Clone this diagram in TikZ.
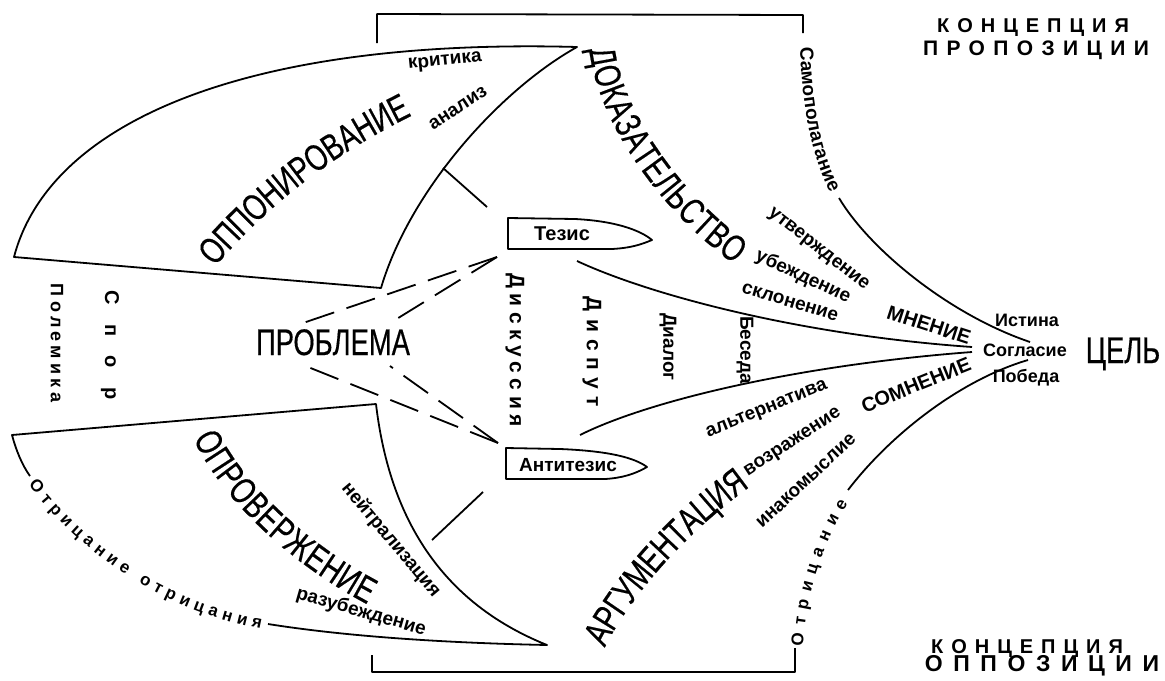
\documentclass[tikz,border=0pt]{standalone}
\usepackage{fontspec}
\setmainfont{Liberation Sans}
\newfontfamily\condfont[FakeStretch=0.74,FakeBold=0.4]{Liberation Sans}
\usetikzlibrary{decorations.text}
\newcommand\bigtype{\condfont\fontsize{18.5}{21}\selectfont}
\newcommand\smalltype{\bfseries\fontsize{9.5}{11}\selectfont}
\tikzset{
  edge/.style={line width=0.9pt, line join=round},
  gap/.style={line width=0.9pt, dash pattern=on 15pt off 6.5pt},
  lbl/.style={inner sep=0pt, font=\smalltype},
  tiny/.style={inner sep=0pt, font=\bfseries\fontsize{9}{11}\selectfont},
  biglbl/.style={inner sep=0pt, font=\bigtype},
  spaced/.style={inner sep=0pt, font=\bfseries\fontsize{10}{12}\selectfont\addfontfeature{LetterSpace=#1}},
}
\begin{document}
\begin{tikzpicture}[x=0.5pt,y=-0.5pt]
\useasboundingbox (0,0) rectangle (1165,680);

\draw[edge] (377,43) -- (377,14) -- (803,15) -- (803,33);
\draw[edge] (372,655) -- (372,672) -- (795,672) -- (795,648);

\draw[edge] (14,257) .. controls (50,120) and (250,38) .. (577,47) .. controls (500,90) and (410,190) .. (381,288) -- cycle;
\draw[edge] (30,476) .. controls (22,465) and (16,450) .. (12,435) -- (376,404) .. controls (392,540) and (460,610) .. (547,645) .. controls (450,643) and (350,637) .. (268,624);
\draw[edge] (443,168) -- (487,207);
\draw[edge] (483,492) -- (432,540);

\draw[edge] (508,218) -- (575,219) .. controls (615,221) and (640,230) .. (652,240) .. controls (640,245) and (630,248) .. (612,249) -- (508,249) -- cycle;
\draw[edge] (506,448) -- (560,449) .. controls (610,451) and (635,458) .. (647,467) .. controls (635,474) and (622,478) .. (605,479) -- (506,479) -- cycle;
\node[lbl, font=\bfseries\fontsize{10}{12}\selectfont] (tezis) at (562,234) {Тезис};
\node[lbl] (antitezis) at (568,465) {Антитезис};

\node[biglbl, anchor=base] (problema) at (333,355) {ПРОБЛЕМА};
\coordinate (tz) at (497,257);
\coordinate (atz) at (498,443);
\coordinate (p1) at (303,323);
\coordinate (p2) at (395,320);
\coordinate (p3) at (303,365);
\coordinate (p4) at (390,366);
\draw[gap] (tz) -- (p1);
\draw[gap] (tz) -- (p2);
\draw[gap] (atz) -- (p3);
\draw[gap] (atz) -- (p4);

\coordinate (tz-out) at (577,261);
\coordinate (atz-out) at (580,435);
\coordinate (agree-w1) at (972,347);
\coordinate (agree-w2) at (972,352);
\draw[edge] (tz-out) .. controls (650,295) and (800,335) .. (agree-w1);
\draw[edge] (atz-out) .. controls (650,400) and (800,365) .. (agree-w2);
\draw[edge] (839,198) .. controls (870,250) and (950,315) .. (1030,342);
\draw[edge] (848,490) .. controls (890,435) and (960,380) .. (1028,360);

\path[decorate, decoration={text along path, text align=center, raise=-6.6pt,
  text={|\bigtype|ОППОНИРОВАНИЕ}}] (195,270) .. controls (255,197) and (325,142) .. (420,97);
\path[decorate, decoration={text along path, text align=center, raise=-6.6pt,
  text={|\bigtype|ДОКАЗАТЕЛЬСТВО}}] (601,32) .. controls (603,115) and (680,215) .. (755,262);
\path[decorate, decoration={text along path, text align=center, raise=-6.6pt,
  text={|\bigtype|ОПРОВЕРЖЕНИЕ}}] (203,428) .. controls (230,490) and (300,555) .. (378,595);
\path[decorate, decoration={text along path, text align=center, raise=-6.6pt,
  text={|\bigtype|АРГУМЕНТАЦИЯ}}] (590,648) .. controls (616,592) and (676,522) .. (748,472);

\path[decorate, decoration={text along path, text align=center, raise=-2.5pt,
  text={|\smalltype|Самополагание}}] (805,40) .. controls (806,100) and (815,155) .. (838,197);
\path[decorate, decoration={text along path, text align={fit to path}, raise=-3pt,
  text={|\bfseries\fontsize{8.5}{10}\selectfont|Отрицание отрицания}}] (33,481) .. controls (90,555) and (170,605) .. (262,623);
\path[decorate, decoration={text along path, text align={fit to path}, raise=-3pt,
  text={|\bfseries\fontsize{8.5}{10}\selectfont|Отрицание}}] (797,646) .. controls (800,595) and (815,545) .. (843,500);

\node[lbl, rotate=6] (kritika) at (445,62) {критика};
\node[lbl, rotate=33] (analiz) at (458,108) {анализ};
\node[lbl, rotate=-38] (utv) at (818,250) {утверждение};
\node[lbl, rotate=-25] (ubezh) at (803,277) {убеждение};
\node[lbl, rotate=-17] (sklon) at (790,302) {склонение};
\node[lbl, font=\bfseries\fontsize{10}{12}\selectfont, rotate=-18] (mnenie) at (929,325) {МНЕНИЕ};
\node[lbl, font=\bfseries\fontsize{10}{12}\selectfont, rotate=22] (somnenie) at (916,385) {СОМНЕНИЕ};
\node[lbl, rotate=22] (alt) at (767,410) {альтернатива};
\node[lbl, rotate=33] (vozr) at (793,443) {возражение};
\node[lbl, rotate=43] (inak) at (806,481) {инакомыслие};
\node[lbl, rotate=-50] (neitr) at (391,540) {нейтрализация};
\node[lbl, rotate=-16] (razub) at (361,612) {разубеждение};

\node[tiny] (istina) at (1027,320) {Истина};
\node[tiny] (soglasie) at (1025,350) {Согласие};
\node[tiny] (pobeda) at (1026,378) {Победа};
\node[biglbl, anchor=base] (cel) at (1123,363) {ЦЕЛЬ};

\node[spaced=26, rotate=-90, font=\bfseries\fontsize{10.5}{12}\selectfont\addfontfeature{LetterSpace=26}] (diskussiya) at (515,350) {Дискуссия};
\node[spaced=34, rotate=-90, font=\bfseries\fontsize{10.5}{12}\selectfont\addfontfeature{LetterSpace=34}] (disput) at (592,352) {Диспут};
\node[lbl, rotate=-90] (dialog) at (668,347) {Диалог};
\node[lbl, rotate=-90] (beseda) at (745,350) {Беседа};
\node[spaced=98, rotate=-90] (spor) at (110,345) {Спор};
\node[spaced=24, rotate=-90, font=\bfseries\fontsize{9}{11}\selectfont\addfontfeature{LetterSpace=24}] (polemika) at (57,343) {Полемика};

\node[spaced=40] (konc1) at (1033,28) {КОНЦЕПЦИЯ};
\node[spaced=40, font=\bfseries\fontsize{10.5}{12}\selectfont\addfontfeature{LetterSpace=40}] (propoz) at (1036,50) {ПРОПОЗИЦИИ};
\node[spaced=40] (konc2) at (1027,648) {КОНЦЕПЦИЯ};
\node[spaced=40, font=\bfseries\fontsize{11.5}{13}\selectfont\addfontfeature{LetterSpace=46}] (oppoz) at (1042,666) {ОППОЗИЦИИ};
\end{tikzpicture}
\end{document}
